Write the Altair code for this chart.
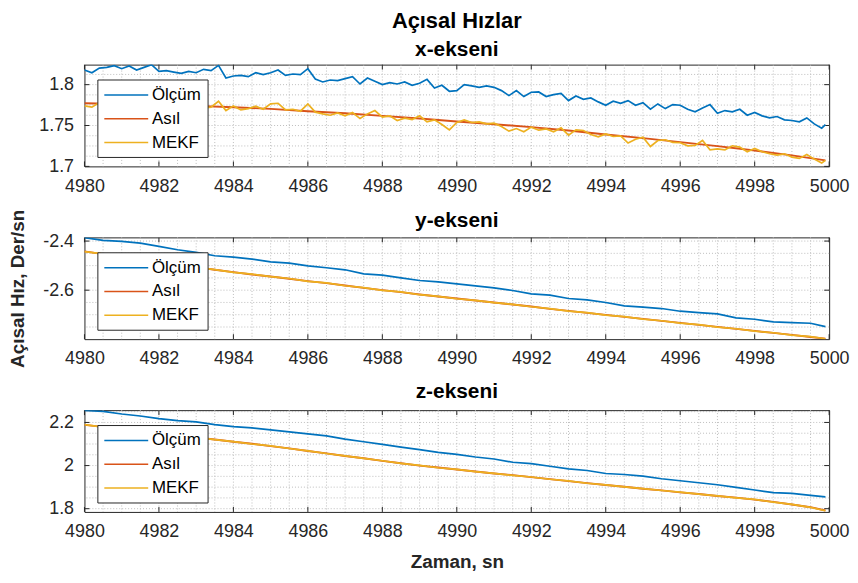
import altair as alt
import numpy as np
import pandas as pd

FONT = "Liberation Sans"
SERIES = ["Ölçüm", "Asıl", "MEKF"]
COLORS = ["#0072BD", "#D95319", "#EDB120"]
AXC = "#262626"
GRIDC = "#bdbdbd"

X_TICKS = [4980, 4982, 4984, 4986, 4988, 4990, 4992, 4994, 4996, 4998, 5000]
X_GRID = [v / 2 for v in range(2 * 4980 + 1, 2 * 5000)]

# ---- x-ekseni (0.2 s samples) ----
T1 = [round(4980 + 0.2 * i, 1) for i in range(100)] + [4999.9]
B1 = [1.8179, 1.8146, 1.8203, 1.8211, 1.8232, 1.8195, 1.8228, 1.8179, 1.8211, 1.8244,
      1.8163, 1.8171, 1.8154, 1.8138, 1.8163, 1.8146, 1.8187, 1.8171, 1.8236, 1.8081,
      1.8106, 1.8114, 1.8098, 1.8146, 1.8122, 1.8146, 1.8179, 1.8114, 1.8130, 1.8122,
      1.8195, 1.8069, 1.8033, 1.8057, 1.8049, 1.8073, 1.8098, 1.8008, 1.8081, 1.8041,
      1.8000, 1.8024, 1.8008, 1.8033, 1.7992, 1.8016, 1.8065, 1.7959, 1.7992, 1.7919,
      1.7927, 1.8000, 1.7984, 1.7967, 1.7984, 1.7967, 1.7927, 1.7866, 1.7927, 1.7854,
      1.7907, 1.7911, 1.7854, 1.7878, 1.7894, 1.7805, 1.7862, 1.7821, 1.7837, 1.7789,
      1.7748, 1.7797, 1.7772, 1.7805, 1.7748, 1.7780, 1.7699, 1.7764, 1.7707, 1.7756,
      1.7748, 1.7699, 1.7667, 1.7715, 1.7756, 1.7650, 1.7683, 1.7667, 1.7699, 1.7626,
      1.7659, 1.7618, 1.7593, 1.7610, 1.7569, 1.7561, 1.7545, 1.7593, 1.7520, 1.7467,
      1.7512]
Y1 = [1.7740, 1.7724, 1.7780, 1.7748, 1.7789, 1.7756, 1.7732, 1.7780, 1.7764, 1.7740,
      1.7772, 1.7748, 1.7724, 1.7764, 1.7740, 1.7756, 1.7715, 1.7724, 1.7797, 1.7683,
      1.7740, 1.7691, 1.7707, 1.7736, 1.7699, 1.7764, 1.7772, 1.7691, 1.7699, 1.7675,
      1.7764, 1.7663, 1.7642, 1.7626, 1.7654, 1.7618, 1.7659, 1.7585, 1.7642, 1.7683,
      1.7602, 1.7618, 1.7561, 1.7589, 1.7573, 1.7618, 1.7545, 1.7569, 1.7512, 1.7447,
      1.7537, 1.7569, 1.7537, 1.7545, 1.7520, 1.7528, 1.7488, 1.7431, 1.7463, 1.7423,
      1.7480, 1.7443, 1.7459, 1.7423, 1.7472, 1.7382, 1.7447, 1.7439, 1.7390, 1.7362,
      1.7398, 1.7366, 1.7374, 1.7285, 1.7333, 1.7358, 1.7244, 1.7317, 1.7325, 1.7293,
      1.7289, 1.7252, 1.7256, 1.7317, 1.7203, 1.7215, 1.7203, 1.7252, 1.7236, 1.7179,
      1.7220, 1.7179, 1.7154, 1.7138, 1.7154, 1.7114, 1.7098, 1.7146, 1.7089, 1.7041,
      1.7073]
TR1 = [4980 + i for i in range(20)] + [4999.9]
R1 = [1.7772, 1.7764, 1.7756, 1.7740, 1.7724, 1.7703, 1.7675, 1.7650, 1.7618, 1.7585,
      1.7549, 1.7516, 1.7480, 1.7439, 1.7390, 1.7346, 1.7297, 1.7248, 1.7195, 1.7134,
      1.7073]

# ---- y-ekseni / z-ekseni (0.5 s samples) ----
T2 = [4980 + 0.5 * i for i in range(40)] + [4999.9]
B2 = [-2.3864, -2.3973, -2.4014, -2.4082, -2.4218, -2.4354, -2.4463, -2.4599, -2.4653, -2.4735,
      -2.4844, -2.4898, -2.5007, -2.5088, -2.5170, -2.5333, -2.5388, -2.5497, -2.5605, -2.5660,
      -2.5741, -2.5823, -2.5905, -2.6014, -2.6150, -2.6204, -2.6340, -2.6394, -2.6503, -2.6639,
      -2.6694, -2.6748, -2.6857, -2.6911, -2.6966, -2.7129, -2.7184, -2.7292, -2.7320, -2.7347,
      -2.7483]
R2 = [-2.4422, -2.4531, -2.4639, -2.4748, -2.4844, -2.4952, -2.5061, -2.5170, -2.5265, -2.5361,
      -2.5442, -2.5537, -2.5633, -2.5714, -2.5809, -2.5905, -2.6000, -2.6082, -2.6177, -2.6258,
      -2.6340, -2.6422, -2.6503, -2.6585, -2.6667, -2.6762, -2.6843, -2.6925, -2.7007, -2.7088,
      -2.7170, -2.7252, -2.7333, -2.7415, -2.7497, -2.7578, -2.7660, -2.7741, -2.7823, -2.7905,
      -2.7973]
Y2 = [-2.4430, -2.4520, -2.4645, -2.4740, -2.4850, -2.4945, -2.5070, -2.5160, -2.5275, -2.5350,
      -2.5450, -2.5525, -2.5640, -2.5705, -2.5820, -2.5895, -2.6010, -2.6070, -2.6185, -2.6250,
      -2.6350, -2.6415, -2.6510, -2.6575, -2.6675, -2.6750, -2.6855, -2.6915, -2.7015, -2.7080,
      -2.7180, -2.7245, -2.7340, -2.7405, -2.7505, -2.7570, -2.7670, -2.7735, -2.7830, -2.7895,
      -2.7980]
B3 = [2.2559, 2.2513, 2.2391, 2.2299, 2.2176, 2.2084, 2.2023, 2.1900, 2.1808, 2.1747,
      2.1655, 2.1563, 2.1471, 2.1379, 2.1226, 2.1103, 2.0981, 2.0858, 2.0736, 2.0613,
      2.0521, 2.0398, 2.0306, 2.0153, 2.0092, 1.9969, 1.9847, 1.9770, 1.9632, 1.9586,
      1.9510, 1.9387, 1.9295, 1.9203, 1.9111, 1.8988, 1.8866, 1.8743, 1.8712, 1.8621,
      1.8544]
R3 = [2.1885, 2.1793, 2.1686, 2.1594, 2.1502, 2.1410, 2.1303, 2.1211, 2.1103, 2.1011,
      2.0904, 2.0797, 2.0674, 2.0567, 2.0444, 2.0337, 2.0215, 2.0107, 2.0000, 1.9908,
      1.9816, 1.9724, 1.9632, 1.9556, 1.9464, 1.9372, 1.9280, 1.9188, 1.9096, 1.9019,
      1.8927, 1.8851, 1.8759, 1.8682, 1.8590, 1.8513, 1.8421, 1.8314, 1.8192, 1.8069,
      1.7916]
Y3 = [2.1895, 2.1785, 2.1695, 2.1585, 2.1510, 2.1400, 2.1310, 2.1200, 2.1110, 2.1000,
      2.0912, 2.0790, 2.0682, 2.0560, 2.0450, 2.0330, 2.0222, 2.0100, 2.0008, 1.9900,
      1.9822, 1.9716, 1.9640, 1.9548, 1.9470, 1.9365, 1.9288, 1.9180, 1.9102, 1.9012,
      1.8934, 1.8843, 1.8766, 1.8675, 1.8597, 1.8505, 1.8428, 1.8306, 1.8200, 1.8060,
      1.7905]

Y1_DOM, Y1_TICKS = [1.7, 1.8245], [1.7, 1.75, 1.8]
Y1_GRID = [round(1.7 + 0.0125 * i, 4) for i in range(1, 10)]
Y2_DOM, Y2_TICKS = [-2.7995, -2.385], [-2.6, -2.4]
Y2_GRID = [round(-2.75 + 0.05 * i, 2) for i in range(8)]
Y3_DOM, Y3_TICKS = [1.785, 2.257], [1.8, 2.0, 2.2]
Y3_GRID = [round(1.8 + 0.05 * i, 2) for i in range(10)]

W, H = 750, 102.5
TL = 5


def panel(series, ydom, yticks, ygrid, title, ytitle=None, xtitle=None):
    XS = alt.Scale(domain=[4980, 5000], nice=False, zero=False)
    YS = alt.Scale(domain=ydom, nice=False, zero=False)
    CS = alt.Scale(domain=SERIES, range=COLORS)
    xaxis_kw = dict(values=X_TICKS, labelExpr="datum.value + ''", labelFlush=False,
                    labelOverlap=False, ticks=False, domain=False, grid=False,
                    labelPadding=11, labelFont=FONT, labelFontSize=18, labelColor=AXC)
    if xtitle:
        xaxis_kw.update(titleFont=FONT, titleFontSize=19, titleFontWeight="bold",
                        titleColor=AXC, titleBaseline="alphabetic", titleY=56)
    yaxis_kw = dict(values=yticks, labelExpr="datum.value + ''", ticks=False, domain=False,
                    grid=False, labelPadding=11, labelFont=FONT, labelFontSize=18,
                    labelColor=AXC)
    if ytitle:
        yaxis_kw.update(titleFont=FONT, titleFontSize=19, titleFontWeight="bold",
                        titleColor=AXC, titleBaseline="alphabetic", titleX=-61,
                        titleY=H / 2)
    XA = alt.Axis(**xaxis_kw)
    YA = alt.Axis(**yaxis_kw)
    legend = alt.Legend(title=None, orient="none", legendX=13, legendY=15,
                        direction="vertical", symbolType="M-1,0H4.2", symbolSize=289,
                        symbolStrokeWidth=1.5, labelFont=FONT, labelFontSize=17,
                        labelColor="#000000", padding=6, rowPadding=6,
                        strokeColor=AXC, fillColor="#ffffff", labelOffset=30)

    def xe(f):
        return alt.X(f"{f}:Q", scale=XS, axis=XA, title=xtitle)

    def ye(f):
        return alt.Y(f"{f}:Q", scale=YS, axis=YA, title=ytitle)

    vgrid = alt.Chart(pd.DataFrame({"g": X_GRID})).mark_rule(
        stroke=GRIDC, strokeWidth=1, strokeDash=[1, 2]).encode(x=xe("g"))
    hgrid = alt.Chart(pd.DataFrame({"g": ygrid})).mark_rule(
        stroke=GRIDC, strokeWidth=1, strokeDash=[1, 2]).encode(y=ye("g"))
    xt = pd.DataFrame({"g": X_TICKS})
    yt = pd.DataFrame({"g": yticks})
    tb = alt.Chart(xt).mark_rule(stroke=AXC).encode(
        x=xe("g"), y=alt.value(H), y2=alt.value(H - TL))
    tt = alt.Chart(xt).mark_rule(stroke=AXC).encode(
        x=xe("g"), y=alt.value(0), y2=alt.value(TL))
    tlft = alt.Chart(yt).mark_rule(stroke=AXC).encode(
        y=ye("g"), x=alt.value(0), x2=alt.value(TL))
    trgt = alt.Chart(yt).mark_rule(stroke=AXC).encode(
        y=ye("g"), x=alt.value(W), x2=alt.value(W - TL))

    layers = [vgrid, hgrid, tb, tt, tlft, trgt]
    widths = [1.7, 1.9, 1.7]
    for (t, v), name, sw in zip(series, SERIES, widths):
        df = pd.DataFrame({"t": t, "v": v, "s": name})
        layers.append(
            alt.Chart(df).mark_line(strokeWidth=sw, clip=True).encode(
                x=xe("t"), y=ye("v"),
                color=alt.Color("s:N", scale=CS, legend=legend),
            )
        )
    return alt.layer(*layers).properties(width=W, height=H, title=title)


t1 = alt.TitleParams(text="Açısal Hızlar", subtitle="x-ekseni", font=FONT, fontSize=22,
                     fontWeight="bold", color="#000000", subtitleFont=FONT,
                     subtitleFontSize=21, subtitleFontWeight="bold", subtitleColor="#000000",
                     subtitlePadding=6, anchor="middle", frame="group", offset=3)
t2 = alt.TitleParams(text="y-ekseni", font=FONT, fontSize=21, fontWeight="bold",
                     color="#000000", anchor="middle", frame="group", offset=-22)
t3 = alt.TitleParams(text="z-ekseni", font=FONT, fontSize=21, fontWeight="bold",
                     color="#000000", anchor="middle", frame="group", offset=8)

p1 = panel([(T1, B1), (TR1, R1), (T1, Y1)], Y1_DOM, Y1_TICKS, Y1_GRID, t1)
p2 = panel([(T2, B2), (T2, R2), (T2, Y2)], Y2_DOM, Y2_TICKS, Y2_GRID, t2,
           ytitle="Açısal Hız, Der/sn")
p3 = panel([(T2, B3), (T2, R3), (T2, Y3)], Y3_DOM, Y3_TICKS, Y3_GRID, t3,
           xtitle="Zaman, sn")

chart = alt.vconcat(p1, p2, p3, spacing=71, bounds="flush").resolve_scale(
    color="independent", x="independent", y="independent"
).properties(padding=0, background="white").configure_view(
    stroke=AXC, strokeWidth=1
)

chart.save("out.html", embed_options={"renderer": "svg", "actions": False})
